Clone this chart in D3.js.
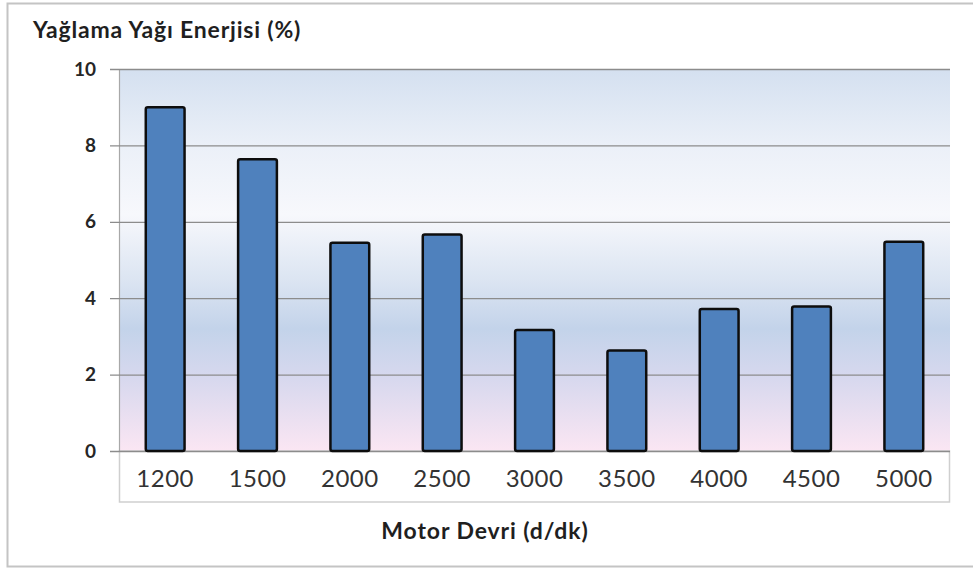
<!DOCTYPE html>
<html>
<head>
<meta charset="utf-8">
<script src="https://cdn.jsdelivr.net/npm/d3@7"></script>
<style>
  html, body { margin: 0; padding: 0; background: #ffffff; }
  svg { display: block; }
</style>
</head>
<body>
<svg id="chart" width="973" height="570"></svg>
<script>
// Motor speed (rpm) categories and lubricating-oil energy share (%)
const categories = ["1200", "1500", "2000", "2500", "3000", "3500", "4000", "4500", "5000"];
const energyShare = [9.0, 7.64, 5.45, 5.67, 3.17, 2.63, 3.72, 3.78, 5.48];
const yTicks = [0, 2, 4, 6, 8, 10];
const yTitle = "Yağlama Yağı Enerjisi (%)";
const xTitle = "Motor Devri (d/dk)";

const svg = d3.select("#chart");
const plot = { left: 119, right: 950, top: 69, bottom: 451 };
const fontStack = "Lato, 'Open Sans', sans-serif";

const x = d3.scaleBand()
  .domain(categories)
  .range([plot.left, plot.right])
  .paddingInner(0.58)
  .paddingOuter(0.29);

const y = d3.scaleLinear()
  .domain([0, 10])
  .range([plot.bottom, plot.top]);

// outer chart frame
svg.append("rect")
  .attr("x", 7.5).attr("y", 3.5)
  .attr("width", 990).attr("height", 563)
  .attr("fill", "#ffffff")
  .attr("stroke", "#c4c4c4").attr("stroke-width", 2);

// plot-area background gradient
const defs = svg.append("defs");
const grad = defs.append("linearGradient")
  .attr("id", "plotBg").attr("x1", 0).attr("y1", 0).attr("x2", 0).attr("y2", 1);
[
  [0, "#d4e0f0"], [0.2, "#ebf0f8"], [0.38, "#f7f8fc"], [0.55, "#dce5f2"],
  [0.68, "#c3d3ea"], [0.81, "#d7d8ee"], [1, "#fbe6f3"]
].forEach(([o, c]) => grad.append("stop").attr("offset", o).attr("stop-color", c));

svg.append("rect")
  .attr("x", plot.left).attr("y", plot.top)
  .attr("width", plot.right - plot.left).attr("height", plot.bottom - plot.top)
  .attr("fill", "url(#plotBg)");

// category label box under the plot
svg.append("rect")
  .attr("x", plot.left + 0.5).attr("y", plot.bottom)
  .attr("width", plot.right - plot.left - 1).attr("height", 51)
  .attr("fill", "#ffffff")
  .attr("stroke", "#cfcfcf").attr("stroke-width", 1.5);

// horizontal gridlines with tick marks extending left
const yAxis = d3.axisLeft(y)
  .tickValues(yTicks)
  .tickSize(-(plot.right - plot.left))
  .tickPadding(23)
  .tickFormat(d3.format("d"));

const yG = svg.append("g")
  .attr("transform", `translate(${plot.left},0)`)
  .call(yAxis);
yG.select(".domain").attr("stroke", "#a8a8a8").attr("stroke-width", 1.2);
yG.selectAll(".tick line")
  .attr("x1", -9)
  .attr("stroke", "#8c8c8c").attr("stroke-width", 1.3);
yG.selectAll(".tick text")
  .attr("fill", "#262626")
  .attr("font-family", fontStack)
  .attr("font-weight", "bold")
  .attr("font-size", 19);

// bars
svg.append("g").selectAll("rect")
  .data(energyShare)
  .join("rect")
  .attr("x", (d, i) => x(categories[i]))
  .attr("y", d => y(d))
  .attr("width", x.bandwidth())
  .attr("height", d => y(0) - y(d))
  .attr("rx", 2).attr("ry", 2)
  .attr("fill", "#4f81bd")
  .attr("stroke", "#0d0d0d")
  .attr("stroke-width", 2.5);

// category labels
const xAxis = d3.axisBottom(x).tickSize(0).tickPadding(0);
const xG = svg.append("g")
  .attr("transform", `translate(0,${plot.bottom})`)
  .call(xAxis);
xG.select(".domain").remove();
xG.selectAll(".tick text")
  .attr("dy", null)
  .attr("y", 36)
  .attr("fill", "#333333")
  .attr("font-family", fontStack)
  .attr("font-size", 24)
  .attr("letter-spacing", 0.5);

// titles
svg.append("text")
  .attr("x", 33).attr("y", 38)
  .attr("fill", "#1f1f1f")
  .attr("font-family", fontStack)
  .attr("font-weight", "bold")
  .attr("font-size", 23)
  .attr("letter-spacing", 0.8)
  .text(yTitle);

svg.append("text")
  .attr("x", 485).attr("y", 539)
  .attr("text-anchor", "middle")
  .attr("fill", "#1f1f1f")
  .attr("font-family", fontStack)
  .attr("font-weight", "bold")
  .attr("font-size", 23)
  .attr("letter-spacing", 0.9)
  .text(xTitle);
</script>
</body>
</html>
